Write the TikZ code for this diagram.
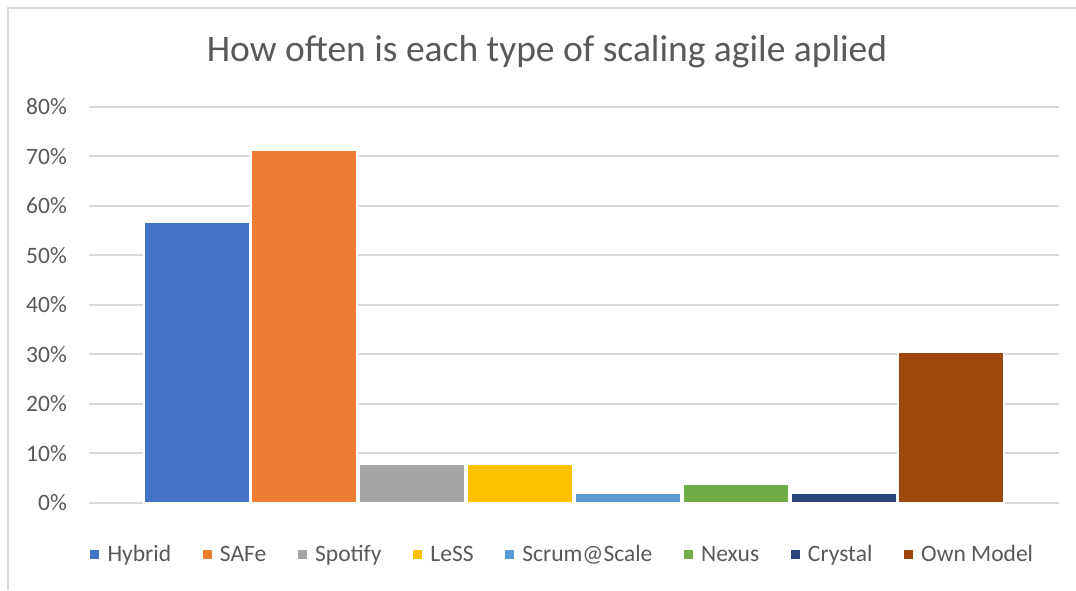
\documentclass[tikz,border=0pt]{standalone}
\usepackage{fontspec}
\setmainfont{Carlito}
\definecolor{txt}{HTML}{595959}
\definecolor{grid}{HTML}{D9D9D9}
\definecolor{frame}{HTML}{D9D9D9}
\definecolor{cHybrid}{HTML}{4472C4}
\definecolor{cSAFe}{HTML}{ED7D31}
\definecolor{cSpotify}{HTML}{A5A5A5}
\definecolor{cLeSS}{HTML}{FFC000}
\definecolor{cScrum}{HTML}{5B9BD5}
\definecolor{cNexus}{HTML}{70AD47}
\definecolor{cCrystal}{HTML}{264478}
\definecolor{cOwn}{HTML}{9E480E}
\tikzset{
  gridline/.style={draw=grid, line width=1.6pt},
  ticklabel/.style={anchor=east, inner sep=0pt, font=\fontsize{23.5}{24}\selectfont, text=txt},
  legmark/.style={minimum size=9pt, inner sep=0pt, anchor=west},
  legtext/.style={anchor=base west, inner sep=0pt, font=\fontsize{23.5}{24}\selectfont, text=txt},
  titlestyle/.style={inner sep=0pt, font=\fontsize{37.5}{39}\selectfont, text=txt},
}
\begin{document}
\begin{tikzpicture}[x=1pt,y=-1pt]
\useasboundingbox (0,0) rectangle (1076,590);
\fill[white] (0,0) rectangle (1076,590);
% chart frame
\draw[frame, line width=1.6pt] (8,590) -- (8,8) -- (1076,8);
% title
\node[titlestyle] (title) at (547,52) {How often is each type of scaling agile aplied};
% gridlines and labels
\foreach \v/\t in {0/0,1/10,2/20,3/30,4/40,5/50,6/60,7/70,8/80}{
  \draw[gridline] (89,{502.7-\v*49.5}) -- (1059,{502.7-\v*49.5});
  \node[ticklabel] (lab\v) at (67,{502.7-\v*49.5}) {\t\%};
}
% bars
\foreach \i/\val/\col in {0/56.6/cHybrid,1/71.0/cSAFe,2/7.7/cSpotify,3/7.7/cLeSS,4/1.8/cScrum,5/3.6/cNexus,6/1.8/cCrystal,7/30.3/cOwn}{
  \pgfmathsetmacro{\xa}{144.5+107.85*\i}
  \pgfmathsetmacro{\ya}{502.7-\val*4.95}
  \fill[white] (\xa-2,\ya-2) rectangle (\xa+106,503.5);
  \fill[\col] (\xa,\ya) rectangle (\xa+104,501.5);
}
% legend
\node[legmark, fill=cHybrid] (m1) at (90,554.5) {};
\node[legtext] (t1) at ([xshift=8pt,yshift=-7pt]m1.east) {Hybrid};
\node[legmark, fill=cSAFe] (m2) at ([xshift=31pt]t1.east |- m1.east) {};
\node[legtext] (t2) at ([xshift=8pt,yshift=-7pt]m2.east) {SAFe};
\node[legmark, fill=cSpotify] (m3) at ([xshift=31pt]t2.east |- m1.east) {};
\node[legtext] (t3) at ([xshift=8pt,yshift=-7pt]m3.east) {Spotify};
\node[legmark, fill=cLeSS] (m4) at ([xshift=31pt]t3.east |- m1.east) {};
\node[legtext] (t4) at ([xshift=8pt,yshift=-7pt]m4.east) {LeSS};
\node[legmark, fill=cScrum] (m5) at ([xshift=31pt]t4.east |- m1.east) {};
\node[legtext] (t5) at ([xshift=8pt,yshift=-7pt]m5.east) {Scrum@Scale};
\node[legmark, fill=cNexus] (m6) at ([xshift=31pt]t5.east |- m1.east) {};
\node[legtext] (t6) at ([xshift=8pt,yshift=-7pt]m6.east) {Nexus};
\node[legmark, fill=cCrystal] (m7) at ([xshift=31pt]t6.east |- m1.east) {};
\node[legtext] (t7) at ([xshift=8pt,yshift=-7pt]m7.east) {Crystal};
\node[legmark, fill=cOwn] (m8) at ([xshift=31pt]t7.east |- m1.east) {};
\node[legtext] (t8) at ([xshift=8pt,yshift=-7pt]m8.east) {Own Model};
\end{tikzpicture}
\end{document}
